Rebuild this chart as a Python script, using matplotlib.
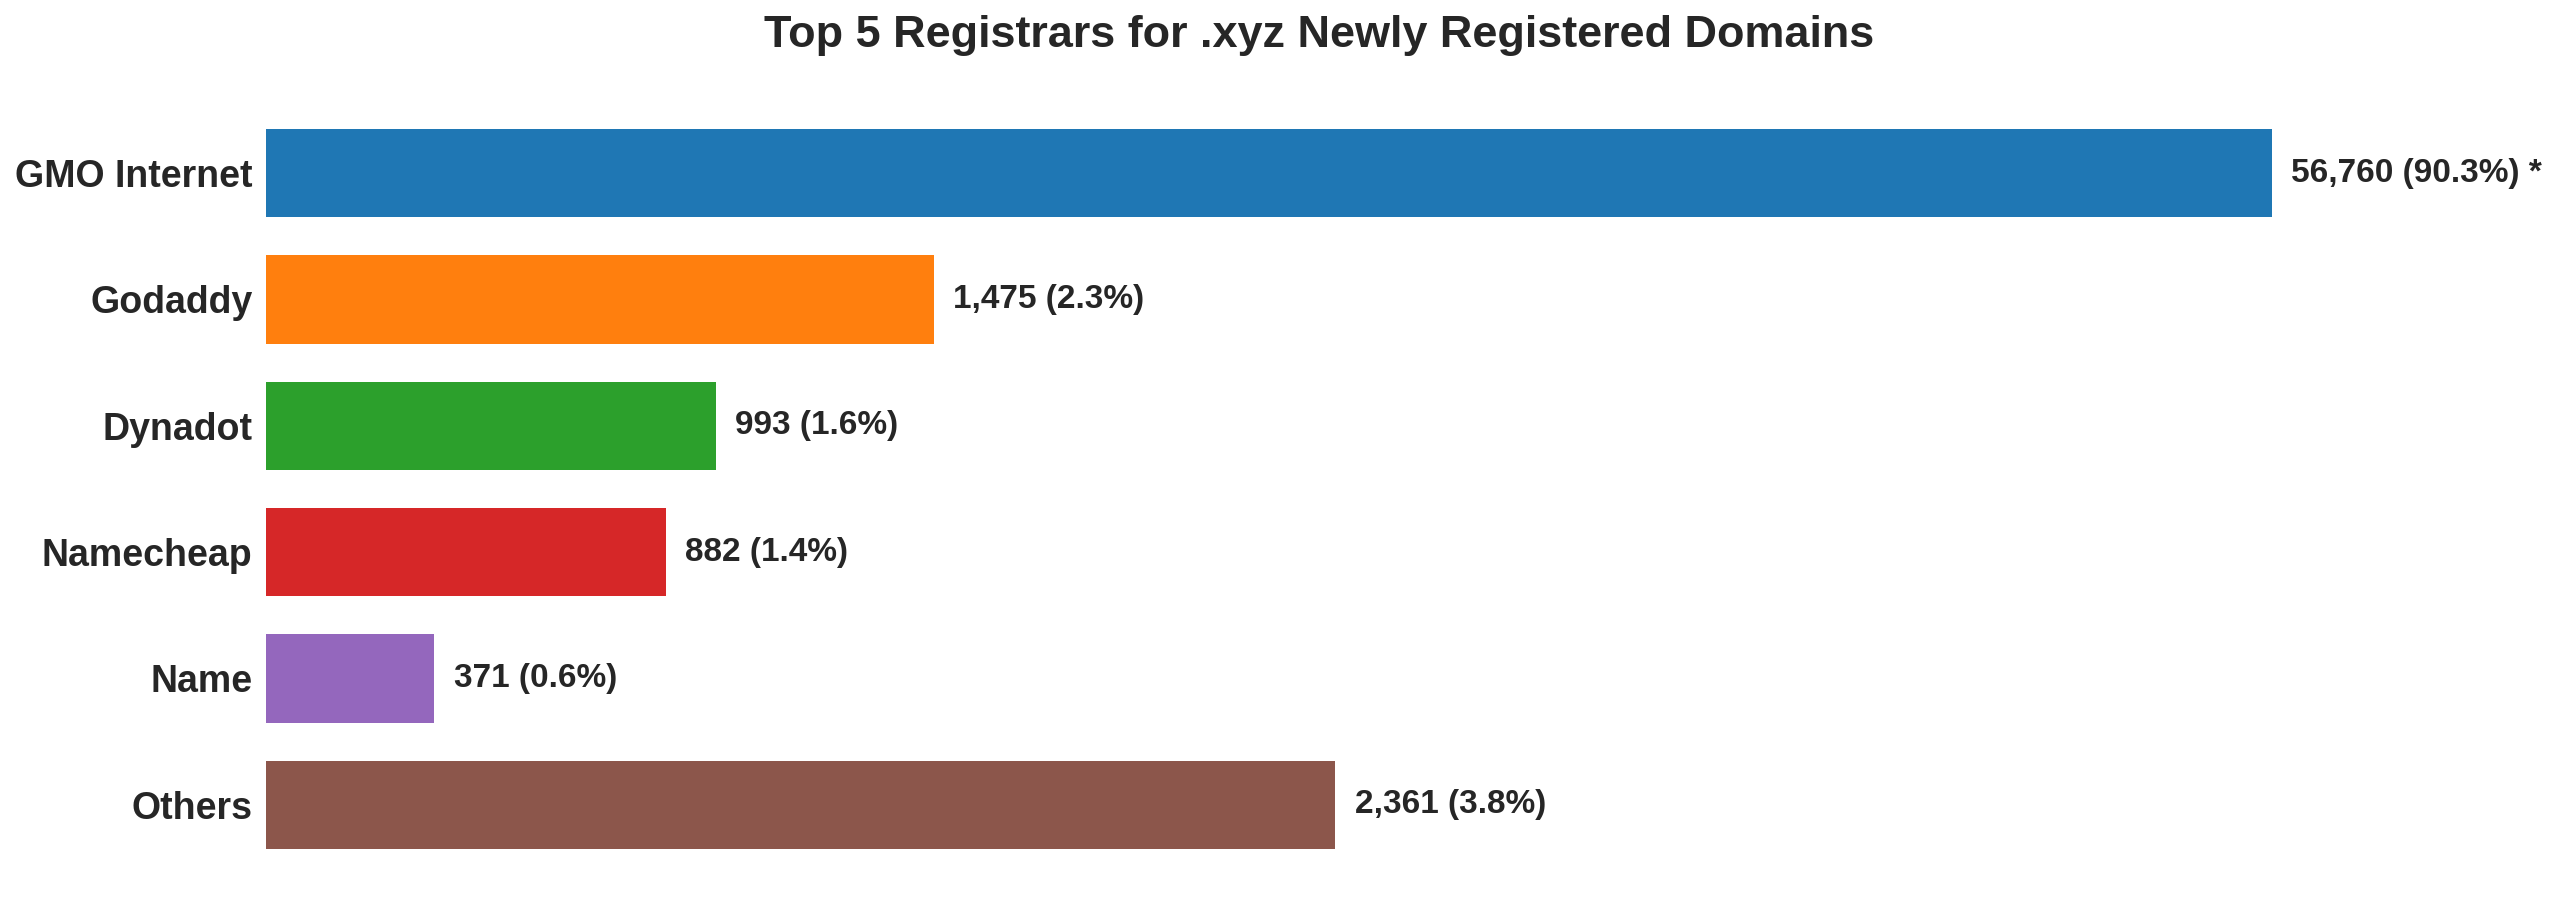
import matplotlib
matplotlib.use("Agg")
import matplotlib.pyplot as plt

plt.rcParams["font.family"] = ["Liberation Sans", "DejaVu Sans"]
plt.rcParams["text.color"] = "#262626"

# data
registrars = ["GMO Internet", "Godaddy", "Dynadot", "Namecheap", "Name", "Others"]
counts = [56760, 1475, 993, 882, 371, 2361]
shares = [90.3, 2.3, 1.6, 1.4, 0.6, 3.8]
colors = ["#1f77b4", "#ff7f0e", "#2ca02c", "#d62728", "#9467bd", "#8c564b"]
# GMO bar is cut short so the others stay readable (marked with *)
gmo_cap = 4430

shown = [min(c, gmo_cap) for c in counts]

fig = plt.figure(figsize=(12.8, 4.5), dpi=200)
ax = fig.add_axes([0.104, 0.0167, 0.8226, 0.88])

y = list(range(len(registrars)))
ax.barh(y, shown, height=0.7, color=colors)
ax.invert_yaxis()

for i, (s, c, p) in enumerate(zip(shown, counts, shares)):
    txt = f"{c:,} ({p}%)"
    if c > gmo_cap:
        txt += " *"
    ax.annotate(txt, (s, i), xytext=(7, 0), textcoords="offset points",
                va="center", ha="left", fontsize=12, fontweight="bold",
                color="#262626")

ax.set_yticks(y)
ax.set_yticklabels(registrars, fontsize=13.5, fontweight="bold", color="#262626")
ax.tick_params(axis="y", length=0, pad=5)
ax.set_xticks([])
for sp in ax.spines.values():
    sp.set_visible(False)

ax.set_title("Top 5 Registrars for .xyz Newly Registered Domains",
             fontsize=16.2, fontweight="bold", color="#262626", pad=16.5)

fig.savefig("out.png", dpi=200)
